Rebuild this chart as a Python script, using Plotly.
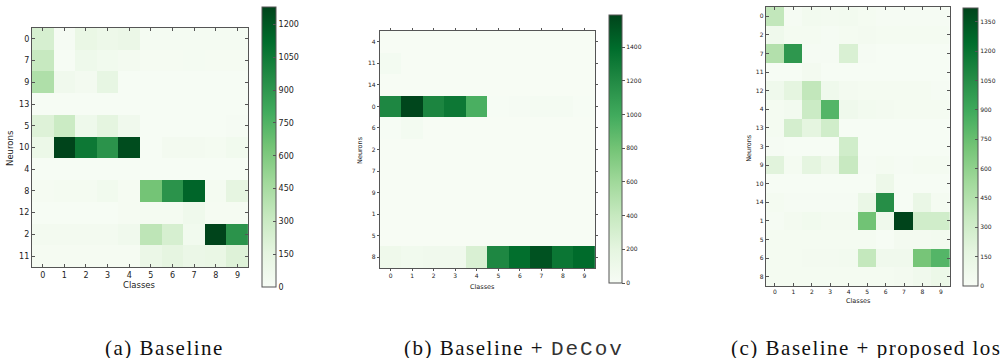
import plotly.graph_objects as go

classes = [0, 1, 2, 3, 4, 5, 6, 7, 8, 9]

# Panel (a) Baseline
neurons_a = ["0", "7", "9", "13", "5", "10", "4", "8", "12", "2", "11"]
values_a = [
    [240, 15, 120, 90, 110, 25, 25, 25, 25, 25],
    [320, 10, 80, 50, 40, 20, 20, 25, 20, 20],
    [420, 60, 40, 140, 10, 10, 10, 10, 10, 10],
    [5, 5, 5, 5, 5, 5, 5, 5, 5, 5],
    [200, 300, 80, 160, 60, 10, 10, 10, 10, 15],
    [100, 1280, 1060, 920, 1250, 10, 40, 40, 30, 50],
    [10, 10, 10, 10, 10, 10, 10, 10, 10, 10],
    [20, 30, 30, 50, 20, 640, 920, 1150, 30, 150],
    [10, 10, 10, 10, 20, 30, 30, 70, 20, 20],
    [40, 40, 40, 40, 60, 360, 240, 50, 1280, 920],
    [20, 20, 20, 20, 20, 110, 150, 110, 120, 200],
]
ticks_a = [0, 150, 300, 450, 600, 750, 900, 1050, 1200]

# Panel (b) Baseline + DeCov
neurons_b = ["4", "11", "14", "0", "6", "2", "7", "9", "1", "5", "8"]
values_b = [
    [5, 5, 5, 5, 5, 5, 5, 5, 5, 5],
    [40, 5, 5, 5, 5, 5, 5, 5, 5, 5],
    [5, 5, 5, 5, 5, 5, 5, 5, 5, 5],
    [1220, 1580, 1230, 1320, 960, 10, 20, 30, 30, 10],
    [10, 40, 5, 5, 5, 5, 5, 5, 5, 5],
    [5, 5, 5, 5, 5, 5, 5, 5, 5, 5],
    [5, 5, 5, 5, 5, 5, 5, 5, 5, 5],
    [5, 5, 5, 5, 5, 5, 5, 5, 5, 5],
    [5, 5, 5, 5, 5, 5, 5, 5, 5, 5],
    [5, 5, 5, 5, 5, 5, 5, 5, 5, 5],
    [90, 70, 80, 80, 280, 1220, 1380, 1520, 1330, 1400],
]
ticks_b = [0, 200, 400, 600, 800, 1000, 1200, 1400]

# Panel (c) Baseline + proposed loss
neurons_c = ["0", "2", "7", "11", "12", "4", "13", "3", "9", "10", "14", "1", "5", "6", "8"]
values_c = [
    [380, 20, 50, 40, 50, 30, 20, 20, 20, 20],
    [80, 30, 30, 20, 30, 40, 30, 30, 30, 30],
    [450, 1000, 20, 20, 250, 20, 10, 10, 10, 10],
    [10, 10, 40, 10, 10, 10, 10, 10, 10, 10],
    [80, 180, 380, 80, 40, 30, 30, 30, 30, 20],
    [30, 50, 330, 820, 80, 50, 40, 30, 30, 30],
    [30, 280, 180, 300, 10, 10, 10, 10, 10, 10],
    [20, 5, 5, 5, 300, 10, 10, 10, 10, 10],
    [200, 30, 180, 90, 350, 20, 30, 20, 30, 30],
    [10, 10, 10, 10, 10, 10, 100, 10, 10, 10],
    [30, 20, 20, 20, 20, 130, 1050, 10, 130, 30],
    [20, 40, 60, 40, 40, 720, 80, 1420, 300, 300],
    [30, 30, 30, 30, 30, 30, 10, 40, 40, 50],
    [30, 30, 40, 40, 50, 370, 70, 70, 700, 820],
    [30, 30, 30, 30, 30, 30, 30, 40, 70, 110],
]
ticks_c = [0, 150, 300, 450, 600, 750, 900, 1050, 1200, 1350]

W, H = 1000, 358
FONT = "DejaVu Sans"


def px(x):
    return x / W


def py(y):
    return (H - y) / H


panels = [
    dict(neurons=neurons_a, values=values_a, ticks=ticks_a, zmax=1280,
         box=(32, 249, 28, 267), cbar=(263, 14, 7, 287), fs=8, tickdir="inside",
         classes_lbl=(140, 285), neurons_lbl=(10, 148), lblfs=8.5),
    dict(neurons=neurons_b, values=values_b, ticks=ticks_b, zmax=1590,
         box=(381, 597, 31, 268), cbar=(611, 13, 15, 283), fs=6, tickdir="outside",
         classes_lbl=(484, 287), neurons_lbl=(361, 150), lblfs=6.5),
    dict(neurons=neurons_c, values=values_c, ticks=ticks_c, zmax=1420,
         box=(768, 953, 7, 286), cbar=(966, 15, 8, 286), fs=6, tickdir="inside",
         classes_lbl=(861, 301), neurons_lbl=(751, 148), lblfs=6.5),
]

fig = go.Figure()
annotations = []
for i, p in enumerate(panels):
    sfx = "" if i == 0 else str(i + 1)
    n = len(p["neurons"])
    x0, x1, ytop, ybot = p["box"]
    cx, cth, ctop, cbot = p["cbar"]
    fig.add_trace(go.Heatmap(
        z=p["values"], x=classes, y=list(range(n)),
        coloraxis="coloraxis" + sfx, xaxis="x" + sfx, yaxis="y" + sfx,
        hoverinfo="skip",
    ))
    axis_common = dict(
        showline=True, mirror="ticks", linecolor="#555", linewidth=1,
        ticks=p["tickdir"], ticklen=3 if p["tickdir"] == "inside" else 2,
        tickcolor="#555", showgrid=False, zeroline=False,
        tickfont=dict(family=FONT, size=p["fs"], color="#222"),
    )
    fig.update_layout(**{
        "xaxis" + sfx: dict(domain=[px(x0), px(x1)], anchor="y" + sfx,
                            range=[-0.5, 9.5], tickvals=classes,
                            ticktext=[str(c) for c in classes], **axis_common),
        "yaxis" + sfx: dict(domain=[py(ybot), py(ytop)], anchor="x" + sfx,
                            range=[n - 0.5, -0.5], tickvals=list(range(n)),
                            ticktext=p["neurons"], **axis_common),
        "coloraxis" + sfx: dict(
            colorscale="Greens", cmin=0, cmax=p["zmax"],
            colorbar=dict(
                x=px(cx), xanchor="left", xpad=0, ypad=0,
                y=py(cbot), yanchor="bottom",
                thickness=cth, thicknessmode="pixels",
                len=cbot - ctop, lenmode="pixels",
                outlinecolor="#555", outlinewidth=1,
                tickvals=p["ticks"], ticks=p["tickdir"], ticklen=3,
                tickcolor="#555",
                tickfont=dict(family=FONT, size=p["fs"], color="#222"),
            ),
        ),
    })
    lx, ly = p["classes_lbl"]
    annotations.append(dict(text="Classes", x=px(lx), y=py(ly), xref="paper", yref="paper",
                            showarrow=False, xanchor="center", yanchor="middle",
                            font=dict(family=FONT, size=p["lblfs"], color="#222")))
    nx, ny = p["neurons_lbl"]
    annotations.append(dict(text="Neurons", x=px(nx), y=py(ny), xref="paper", yref="paper",
                            showarrow=False, xanchor="center", yanchor="middle", textangle=-90,
                            font=dict(family=FONT, size=p["lblfs"], color="#222")))

SERIF = "Liberation Serif, Times New Roman, serif"
SP = "letter-spacing:1.5px"
MONO_SPAN = "<span style='font-family:Liberation Mono, Courier New, monospace;letter-spacing:2px;color:#333'>DeCov</span>"
captions = [
    ("<span style='" + SP + "'>(a) Baseline</span>", 103),
    ("<span style='" + SP + "'>(b) Baseline + </span>" + MONO_SPAN, 403),
    ("<span style='" + SP + "'>(c) Baseline + proposed loss</span>", 731),
]
for text, cx in captions:
    annotations.append(dict(text=text, x=px(cx), y=py(348), xref="paper", yref="paper",
                            showarrow=False, xanchor="left", yanchor="middle",
                            font=dict(family=SERIF, size=21, color="#111")))

fig.update_layout(
    width=W, height=H, autosize=False,
    margin=dict(l=0, r=0, t=0, b=0),
    paper_bgcolor="white", plot_bgcolor="white",
    annotations=annotations, showlegend=False,
)

fig.write_html("out.html", config={"displayModeBar": False},
               post_script="document.body.style.margin='0px';")
